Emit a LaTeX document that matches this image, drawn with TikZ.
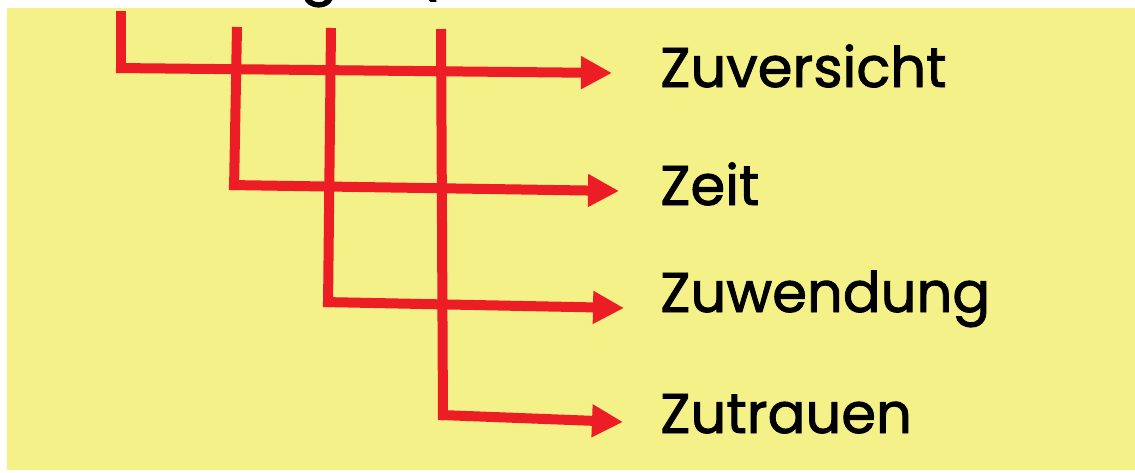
\documentclass[tikz,border=0pt]{standalone}
\usepackage{fontspec}
\setmainfont{Poppins}
\newfontfamily\notefont{Poppins}[FakeBold=1.6]
\usetikzlibrary{arrows.meta}
\definecolor{pad}{RGB}{245,241,137}
\definecolor{pen}{RGB}{237,29,37}
\tikzset{
  link/.style={draw=pen, line width=10pt},
  arrowlink/.style={link, -{Triangle[length=31pt,width=31pt]}},
  word/.style={anchor=base west, inner sep=0pt, font=\notefont\fontsize{56}{60}\selectfont},
  heading/.style={anchor=base, inner sep=0pt, font=\notefont\fontsize{56}{60}\selectfont}
}
\begin{document}
\begin{tikzpicture}[x=1pt,y=-1pt]
  \clip (0,0) rectangle (1135,472);
  \fill[white] (0,0) rectangle (1135,472);
  % heading above the note, only its lowest strokes remain in view
  \node[heading] (hg) at (319,-8) {g};
  \node[heading] (hp) at (426,-9) {(};
  % the note
  \fill[pad] (7,8) rectangle (1135,470);

  % labels
  \node[word] (l1) at (660,87)  {Zuversicht};
  \node[word] (l2) at (660,205) {Zeit};
  \node[word] (l3) at (660,312) {Zuwendung};
  \node[word] (l4) at (660,433) {Zutrauen};

  % upper ends of the stems
  \coordinate (t1) at (121,11);
  \coordinate (t2) at (237,27);
  \coordinate (t3) at (331,28);
  \coordinate (t4) at (441,29);
  % corners where the stems turn right
  \coordinate (c1) at (121,73);
  \coordinate (c2) at (234,190);
  \coordinate (c3) at (328,307);
  \coordinate (c4) at (443,420);
  % starts of the branches
  \coordinate (s1) at (116,68);
  \coordinate (s2) at (229,185);
  \coordinate (s3) at (323,302);
  \coordinate (s4) at (441,415);
  % arrow tips in front of the labels
  \coordinate (e1) at (612,73);
  \coordinate (e2) at (619,191);
  \coordinate (e3) at (624,308);
  \coordinate (e4) at (623,422);

  % branches
  \draw[arrowlink] (s1) -- (e1);
  \draw[arrowlink] (s2) -- (e2);
  \draw[arrowlink] (s3) -- (e3);
  \draw[arrowlink] (s4) -- (e4);
  % stems
  \draw[link] (t1) -- (c1);
  \draw[link] (t2) -- (c2);
  \draw[link] (t3) -- (c3);
  \draw[link] (t4) -- (c4);
\end{tikzpicture}
\end{document}
